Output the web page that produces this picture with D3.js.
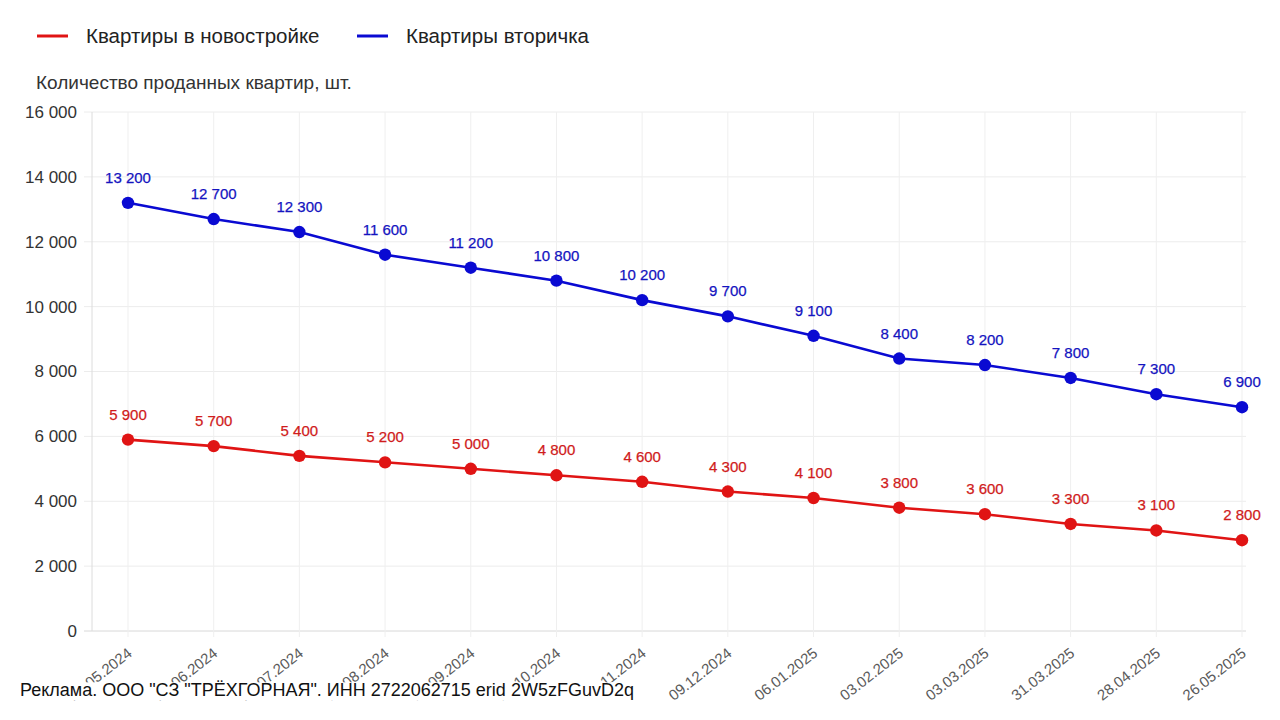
<!DOCTYPE html>
<html>
<head>
<meta charset="utf-8">
<script src="https://cdn.jsdelivr.net/npm/d3@7"></script>
<style>
  html, body { margin: 0; padding: 0; background: #fff; }
  svg { display: block; font-family: "Liberation Sans", Arial, Helvetica, sans-serif; }
</style>
</head>
<body>
<svg id="chart" width="1280" height="720"></svg>
<script>
// ---- data ----
const dates = ["27.05.2024", "24.06.2024", "22.07.2024", "19.08.2024", "16.09.2024", "14.10.2024", "11.11.2024",
               "09.12.2024", "06.01.2025", "03.02.2025", "03.03.2025", "31.03.2025", "28.04.2025", "26.05.2025"];
const newBuild = [5900, 5700, 5400, 5200, 5000, 4800, 4600, 4300, 4100, 3800, 3600, 3300, 3100, 2800];
const resale   = [13200, 12700, 12300, 11600, 11200, 10800, 10200, 9700, 9100, 8400, 8200, 7800, 7300, 6900];
const yTicks   = [0, 2000, 4000, 6000, 8000, 10000, 12000, 14000, 16000];
const seriesNames = ["Квартиры в новостройке", "Квартиры вторичка"];
const yTitle = "Количество проданных квартир, шт.";
const adText = "Реклама. ООО \"СЗ \"ТРЁХГОРНАЯ\". ИНН 2722062715 erid 2W5zFGuvD2q";

// ---- setup ----
const svg = d3.select("#chart");
const locale = d3.formatLocale({ decimal: ",", thousands: " ", grouping: [3], currency: ["", ""] });
const fmt = locale.format(",d");

const plot = { left: 92, right: 1246, top: 112, bottom: 631 };
const x = d3.scalePoint().domain(dates).range([128, 1242]);
const y = d3.scaleLinear().domain([0, 16000]).range([plot.bottom, plot.top]);

const colors = { red: "#e01414", blue: "#0a0ad2", redText: "#d01c1c", blueText: "#1414c0" };

// ---- grid ----
const grid = svg.append("g");
grid.selectAll("line.h").data(yTicks).join("line")
  .attr("x1", plot.left - 8).attr("x2", plot.right)
  .attr("y1", d => y(d)).attr("y2", d => y(d))
  .attr("stroke", d => d === 0 ? "#d8d8d8" : "#ececec").attr("stroke-width", 1);
grid.selectAll("line.v").data(dates).join("line")
  .attr("x1", d => x(d)).attr("x2", d => x(d))
  .attr("y1", plot.top).attr("y2", plot.bottom + 6)
  .attr("stroke", "#efefef").attr("stroke-width", 1);
grid.append("line")
  .attr("x1", plot.left).attr("x2", plot.left)
  .attr("y1", plot.top).attr("y2", plot.bottom)
  .attr("stroke", "#dcdcdc").attr("stroke-width", 1);

// ---- y axis labels ----
svg.append("g").selectAll("text").data(yTicks).join("text")
  .attr("x", 77).attr("y", d => y(d))
  .attr("dy", "0.35em")
  .attr("text-anchor", "end")
  .attr("font-size", 17).attr("fill", "#333")
  .text(d => fmt(d));

// ---- x axis labels ----
svg.append("g").selectAll("text").data(dates).join("text")
  .attr("transform", d => `translate(${x(d) + 5},655) rotate(-38)`)
  .attr("text-anchor", "end")
  .attr("font-size", 15).attr("fill", "#5a5a5a")
  .text(d => d);

// ---- series ----
const series = [
  { name: seriesNames[0], values: newBuild, color: colors.red, text: colors.redText },
  { name: seriesNames[1], values: resale, color: colors.blue, text: colors.blueText }
];
const line = d3.line().x((d, i) => x(dates[i])).y(d => y(d));

series.forEach(s => {
  const g = svg.append("g");
  g.append("path").datum(s.values)
    .attr("d", line)
    .attr("fill", "none").attr("stroke", s.color).attr("stroke-width", 2.6);
  g.selectAll("circle").data(s.values).join("circle")
    .attr("cx", (d, i) => x(dates[i])).attr("cy", d => y(d))
    .attr("r", 6.2).attr("fill", s.color);
  g.selectAll("text").data(s.values).join("text")
    .attr("x", (d, i) => x(dates[i])).attr("y", d => y(d) - 20)
    .attr("text-anchor", "middle")
    .attr("font-size", 15).attr("fill", s.text)
    .attr("stroke", s.text).attr("stroke-width", 0.25)
    .text(d => fmt(d));
});

// ---- legend ----
const legendX = [37, 357];
series.forEach((s, i) => {
  const g = svg.append("g").attr("transform", `translate(${legendX[i]},36)`);
  g.append("line").attr("x1", 0).attr("x2", 31).attr("y1", 0).attr("y2", 0)
    .attr("stroke", s.color).attr("stroke-width", 3);
  g.append("text").attr("x", 49).attr("y", 0).attr("dy", "0.35em")
    .attr("font-size", 20.5).attr("fill", "#222").text(s.name);
});

// ---- y title ----
svg.append("text").attr("x", 36).attr("y", 82).attr("dy", "0.35em")
  .attr("font-size", 19).attr("fill", "#333").text(yTitle);

// ---- ad text with white backing ----
const ad = svg.append("g");
const adRect = ad.append("rect").attr("fill", "#fff");
const adT = ad.append("text").attr("x", 20).attr("y", 690).attr("dy", "0.35em")
  .attr("font-size", 18).attr("fill", "#111").text(adText);
const bb = adT.node().getBBox();
adRect.attr("x", bb.x - 2).attr("y", bb.y + 2).attr("width", bb.width + 4).attr("height", bb.height - 2);
</script>
</body>
</html>
